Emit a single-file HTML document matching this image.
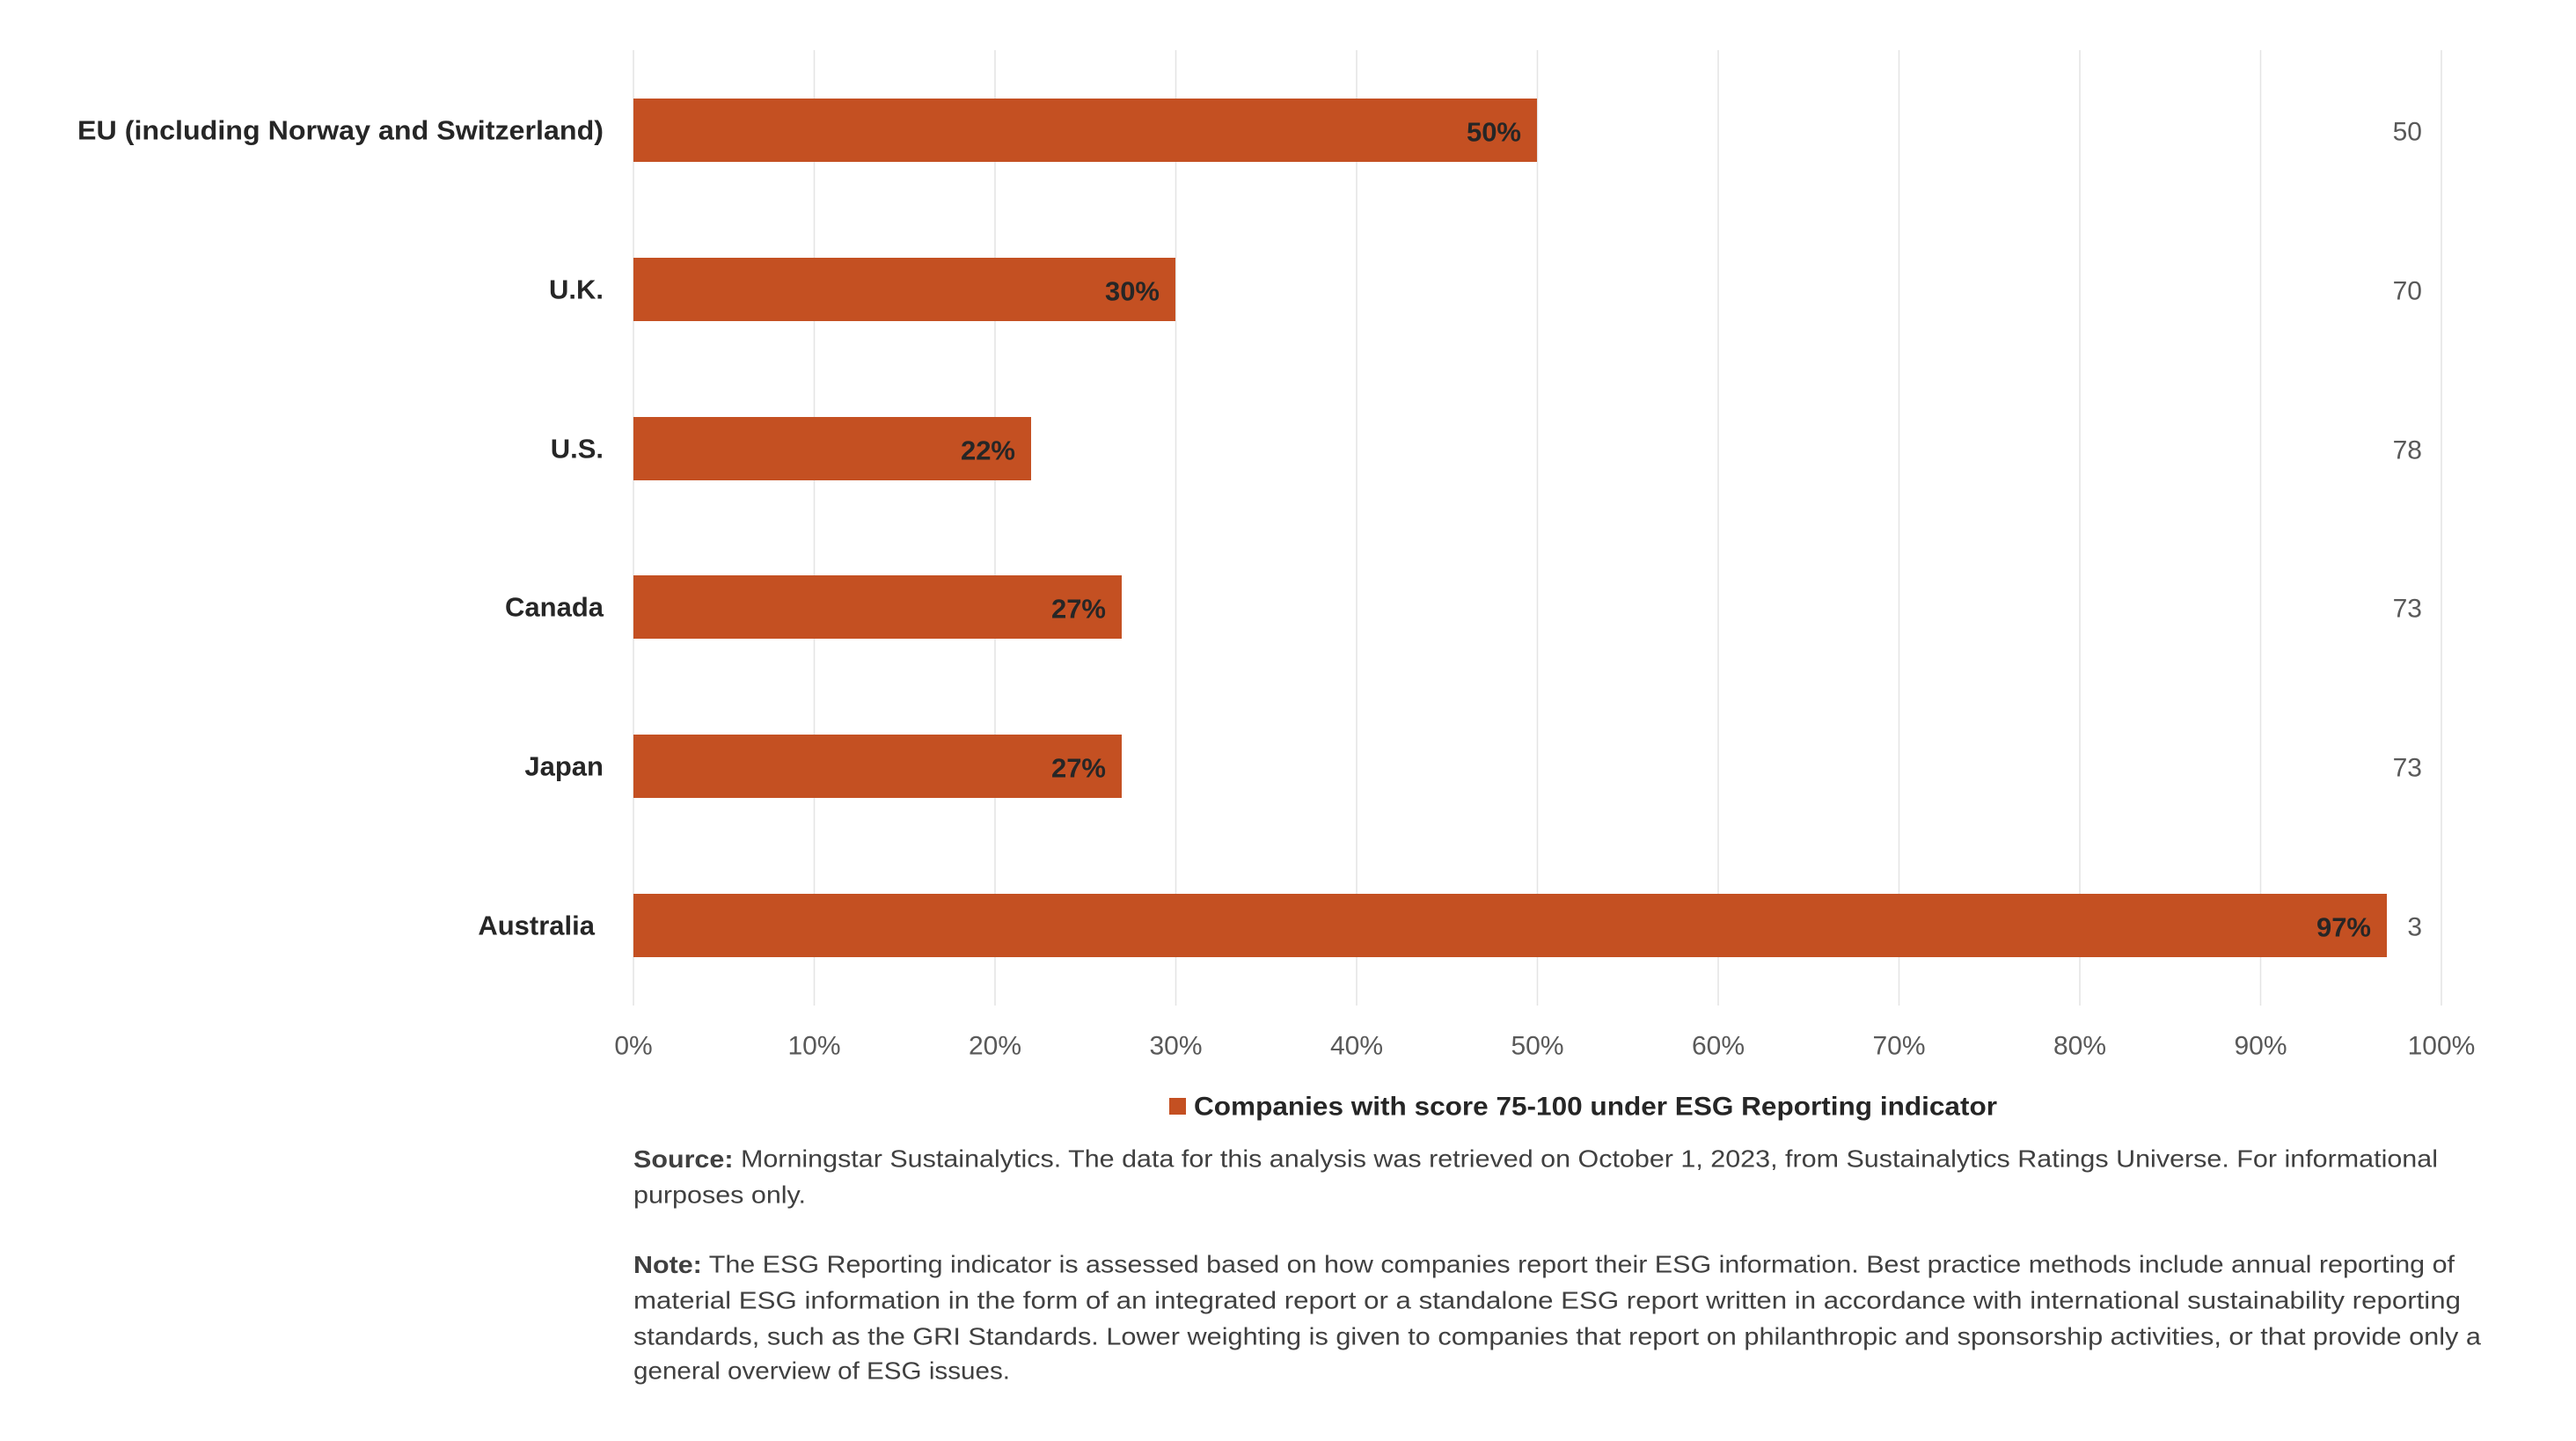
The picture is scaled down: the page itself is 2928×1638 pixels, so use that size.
<!DOCTYPE html>
<html><head><meta charset="utf-8"><style>html,body{margin:0;padding:0;background:#fff}svg{display:block}</style></head>
<body>
<svg width="2928" height="1638" viewBox="0 0 2928 1638" xmlns="http://www.w3.org/2000/svg" font-family="Liberation Sans, Arial, sans-serif">
<g stroke="#e4e4e4" stroke-width="1.5">
<line x1="720" y1="57" x2="720" y2="1143"/><line x1="925.5" y1="57" x2="925.5" y2="1143"/><line x1="1131" y1="57" x2="1131" y2="1143"/><line x1="1336.5" y1="57" x2="1336.5" y2="1143"/><line x1="1542" y1="57" x2="1542" y2="1143"/><line x1="1747.5" y1="57" x2="1747.5" y2="1143"/><line x1="1953" y1="57" x2="1953" y2="1143"/><line x1="2158.5" y1="57" x2="2158.5" y2="1143"/><line x1="2364" y1="57" x2="2364" y2="1143"/><line x1="2569.5" y1="57" x2="2569.5" y2="1143"/><line x1="2775" y1="57" x2="2775" y2="1143"/>
</g>
<g fill="#c45022">
<rect x="720" y="112" width="1027" height="72"/>
<rect x="720" y="293" width="616" height="72"/>
<rect x="720" y="474" width="452" height="72"/>
<rect x="720" y="654" width="555" height="72"/>
<rect x="720" y="835" width="555" height="72"/>
<rect x="720" y="1016" width="1993" height="72"/>
</g>
<g font-weight="bold" fill="#262626" font-size="31" text-anchor="end" dominant-baseline="central">
<text x="686" y="148" textLength="598" lengthAdjust="spacingAndGlyphs">EU  (including Norway and Switzerland)</text>
<text x="686" y="329">U.K.</text>
<text x="686" y="510">U.S.</text>
<text x="686" y="690">Canada</text>
<text x="686" y="871">Japan</text>
<text x="676" y="1052">Australia</text>
<text x="1729" y="150">50%</text>
<text x="1318" y="331">30%</text>
<text x="1154" y="512">22%</text>
<text x="1257" y="692">27%</text>
<text x="1257" y="873">27%</text>
<text x="2695" y="1054">97%</text>
</g>
<g fill="#595959" font-size="30" text-anchor="end" dominant-baseline="central">
<text x="2753" y="150">50</text><text x="2753" y="331">70</text><text x="2753" y="512">78</text><text x="2753" y="692">73</text><text x="2753" y="873">73</text><text x="2753" y="1054">3</text>
</g>
<g fill="#595959" font-size="30" text-anchor="middle" dominant-baseline="central">
<text x="720" y="1189">0%</text><text x="925.5" y="1189">10%</text><text x="1131" y="1189">20%</text><text x="1336.5" y="1189">30%</text><text x="1542" y="1189">40%</text><text x="1747.5" y="1189">50%</text><text x="1953" y="1189">60%</text><text x="2158.5" y="1189">70%</text><text x="2364" y="1189">80%</text><text x="2569.5" y="1189">90%</text><text x="2775" y="1189">100%</text>
</g>
<rect x="1329" y="1248" width="19" height="19" fill="#c45022"/>
<text x="1357" y="1258" font-size="30" font-weight="bold" fill="#262626" dominant-baseline="central" textLength="913" lengthAdjust="spacingAndGlyphs">Companies with score 75-100 under ESG Reporting indicator</text>
<g fill="#404040" font-size="28" dominant-baseline="central">
<text x="720" y="1317" textLength="2051" lengthAdjust="spacingAndGlyphs"><tspan font-weight="bold">Source:</tspan> Morningstar Sustainalytics. The data for this analysis was retrieved on October 1, 2023, from Sustainalytics Ratings Universe. For informational</text>
<text x="720" y="1358" textLength="196" lengthAdjust="spacingAndGlyphs">purposes only.</text>
<text x="720" y="1437" textLength="2070" lengthAdjust="spacingAndGlyphs"><tspan font-weight="bold">Note:</tspan> The ESG Reporting indicator is assessed based on how companies report their ESG information. Best practice methods include annual reporting of</text>
<text x="720" y="1478" textLength="2077" lengthAdjust="spacingAndGlyphs">material ESG information in the form of an integrated report or a standalone ESG report written in accordance with international sustainability reporting</text>
<text x="720" y="1519" textLength="2100" lengthAdjust="spacingAndGlyphs">standards, such as the GRI Standards. Lower weighting is given to companies that report on philanthropic and sponsorship activities, or that provide only a</text>
<text x="720" y="1558" textLength="428" lengthAdjust="spacingAndGlyphs">general overview of ESG issues.</text>
</g>
</svg>
</body></html>
